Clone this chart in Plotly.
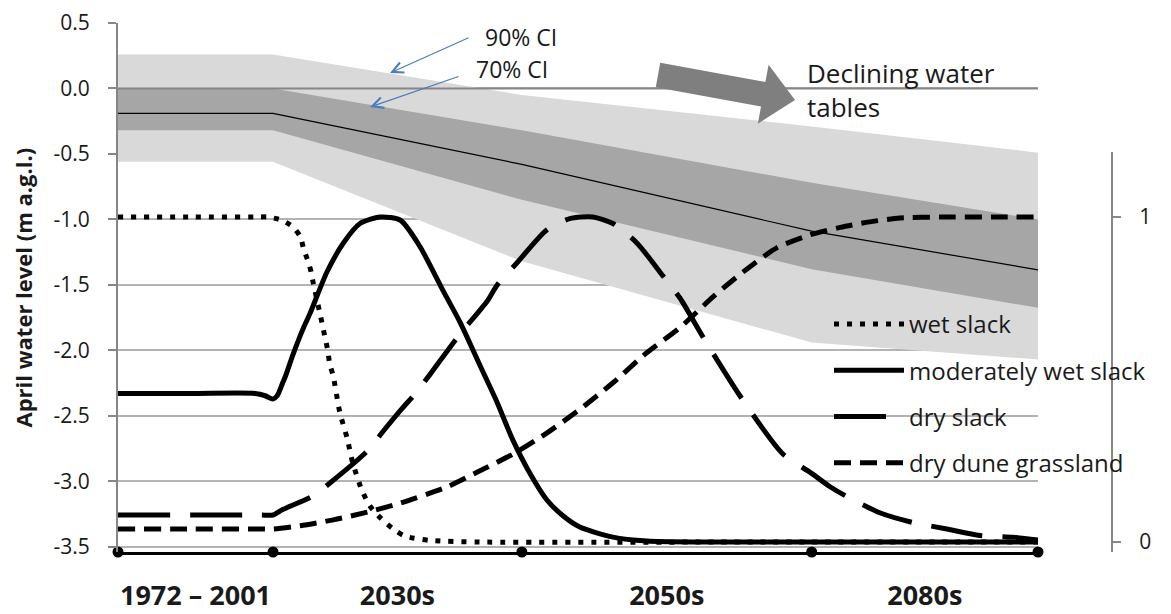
import plotly.graph_objects as go

# ---------------- data ----------------
# time index (0 = start of 1972-2001 baseline, 100 = end of 2080s)
period_bounds = [0, 16.85, 43.9, 75.4, 100]
period_labels = ["1972 – 2001", "2030s", "2050s", "2080s"]

# April water level (m a.g.l.) - ensemble statistics at period bounds
band_t = [0, 16.85, 43.9, 75.4, 100]
ci90_upper = [0.26, 0.26, -0.05, -0.29, -0.49]
ci70_upper = [0.0, 0.0, -0.32, -0.72, -1.0]
wl_mean = [-0.19, -0.19, -0.58, -1.09, -1.385]
ci70_lower = [-0.32, -0.32, -0.85, -1.38, -1.675]
ci90_lower = [-0.56, -0.56, -1.32, -1.94, -2.07]

# habitat suitability (right axis, 0-1)
wet_t = [0, 8.0, 15.0, 16.3, 17.8, 19.0, 19.8, 20.2, 20.7, 21.0, 21.2, 21.9, 22.2, 22.5, 22.8,
         23.0, 23.4, 24.1, 24.9, 25.5, 26.5, 27.4, 28.5, 29.9, 31.2, 33.9, 39.4, 70.0, 100]
wet_v = [1.0, 1.0, 1.0, 1.0, 0.99, 0.97, 0.94, 0.90, 0.86, 0.83, 0.80, 0.71, 0.67, 0.63, 0.59,
         0.55, 0.51, 0.40, 0.32, 0.245, 0.16, 0.11, 0.075, 0.04, 0.018, 0.005, 0.0, 0.0, 0.0]

mod_t = [0, 8.0, 14.9, 16.0, 16.85, 17.3, 17.9, 18.2, 19.0, 20.1, 20.9, 22.7, 24.5, 26.3, 28.5,
         30.7, 32.8, 35.3, 37.2, 39.4, 41.2, 42.9, 44.8, 46.6, 48.4, 50.2, 53.8, 57.5, 63.3,
         80.0, 100]
mod_v = [0.457, 0.457, 0.457, 0.45, 0.44, 0.45, 0.49, 0.51, 0.575, 0.655, 0.705, 0.83, 0.92,
         0.98, 1.0, 0.99, 0.91, 0.775, 0.675, 0.54, 0.43, 0.315, 0.21, 0.13, 0.08, 0.046, 0.015,
         0.003, 0.0, 0.0, 0.0]

dry_t = [0, 8.0, 15.5, 16.85, 17.9, 21.1, 23.4, 27.1, 28.8, 30.7, 32.1, 33.9, 36.9, 40.1, 41.2,
         43.4, 46.6, 49.1, 51.6, 53.8, 56.4, 59.2, 61.1, 63.6, 67.6, 72.3, 75.2, 77.4, 79.2,
         82.8, 86.4, 90.1, 93.7, 97.3, 100]
dry_v = [0.083, 0.083, 0.083, 0.083, 0.1, 0.14, 0.19, 0.28, 0.34, 0.405, 0.45, 0.515, 0.63,
         0.74, 0.79, 0.86, 0.96, 0.995, 1.0, 0.98, 0.92, 0.82, 0.75, 0.63, 0.45, 0.27, 0.215,
         0.17, 0.14, 0.09, 0.06, 0.04, 0.02, 0.015, 0.006]

dune_t = [0, 8.0, 15.5, 16.85, 19.8, 23.4, 27.1, 30.7, 35.8, 39.4, 42.9, 46.6, 50.2, 53.8,
          57.5, 61.1, 64.7, 67.9, 71.6, 75.2, 78.5, 81.7, 85.0, 89.4, 95.0, 100]
dune_v = [0.04, 0.04, 0.04, 0.04, 0.05, 0.068, 0.092, 0.12, 0.17, 0.22, 0.27, 0.335, 0.408,
          0.49, 0.583, 0.66, 0.755, 0.83, 0.905, 0.945, 0.968, 0.985, 0.997, 1.0, 1.0, 1.0]

left_ticks = [-3.5, -3.0, -2.5, -2.0, -1.5, -1.0, -0.5, 0.0, 0.5]
right_ticks = [0, 1]

# ---------------- layout helpers ----------------
# the page body adds an 8px offset; the figure is sized/margined to compensate
BODY = 8
W, H = 1171 - BODY, 614 - BODY
ML, MR, MT, MB = 118 - BODY, 20, 23 - BODY, 62
PW, PH = W - ML - MR, H - MT - MB
PLOT_LEFT, PLOT_BOTTOM = 118, 552   # reference-pixel position of the plot area corner
Y_MIN, Y_MAX = -3.54, 0.5

def px_x(px):
    return (px - PLOT_LEFT) / PW

def px_y(py):
    return (PLOT_BOTTOM - py) / PH

FONT = "Open Sans"
TXT = "#1a1a1a"
GRAY_AX = "#868686"

fig = go.Figure()

# confidence bands
fig.add_trace(go.Scatter(x=band_t, y=ci90_lower, mode="lines", line=dict(width=0),
                         showlegend=False, hoverinfo="skip"))
fig.add_trace(go.Scatter(x=band_t, y=ci90_upper, mode="lines", line=dict(width=0),
                         fill="tonexty", fillcolor="#d9d9d9", showlegend=False, hoverinfo="skip"))
fig.add_trace(go.Scatter(x=band_t, y=ci70_lower, mode="lines", line=dict(width=0),
                         showlegend=False, hoverinfo="skip"))
fig.add_trace(go.Scatter(x=band_t, y=ci70_upper, mode="lines", line=dict(width=0),
                         fill="tonexty", fillcolor="#a6a6a6", showlegend=False, hoverinfo="skip"))
fig.add_trace(go.Scatter(x=band_t, y=wl_mean, mode="lines", line=dict(color="black", width=1.2),
                         showlegend=False))

# period boundary dots on the x axis
fig.add_trace(go.Scatter(x=period_bounds, y=[Y_MIN] * len(period_bounds), mode="markers",
                         marker=dict(color="black", size=11), cliponaxis=False, showlegend=False))

# habitat curves
habitats = [
    ("wet slack", wet_t, wet_v, "5px,8px"),
    ("moderately wet slack", mod_t, mod_v, "solid"),
    ("dry slack", dry_t, dry_v, "52px,20px"),
    ("dry dune grassland", dune_t, dune_v, "17px,9px"),
]
for name, tt, vv, dash in habitats:
    fig.add_trace(go.Scatter(x=tt, y=vv, mode="lines", name=name, yaxis="y2",
                             legendgroup=name,
                             line=dict(color="black", width=5, dash=dash,
                                       shape="spline", smoothing=0.7)))

mids = [(period_bounds[i] + period_bounds[i + 1]) / 2 for i in range(len(period_labels))]

fig.update_layout(
    width=W, height=H,
    margin=dict(l=ML, r=MR, t=MT, b=MB, autoexpand=False),
    paper_bgcolor="white", plot_bgcolor="rgba(0,0,0,0)",
    font=dict(family=FONT, color=TXT),
    xaxis=dict(domain=[0, px_x(1038)], range=[0, 100], tickvals=mids, ticktext=period_labels,
               ticks="", showgrid=False, zeroline=False, showline=True, linecolor="black",
               linewidth=3, tickfont=dict(family=FONT, size=27, weight="bold", color=TXT),
               ticklabelstandoff=18, automargin=False),
    yaxis=dict(range=[Y_MIN, Y_MAX], tickvals=left_ticks,
               ticktext=[f"{v:.1f}" for v in left_ticks],
               showgrid=True, gridcolor="#b3b3b3", gridwidth=2,
               zeroline=False,
               showline=True, linecolor=GRAY_AX, linewidth=2,
               ticks="outside", ticklen=8, tickcolor=GRAY_AX, tickwidth=2,
               tickfont=dict(family=FONT, size=21, color=TXT), ticklabelstandoff=14,
               automargin=False),
    yaxis2=dict(domain=[0, px_y(152)], range=[-10 / 325, 1.2], anchor="free",
                position=px_x(1112), side="right", tickvals=right_ticks,
                ticktext=[str(v) for v in right_ticks], showgrid=False, zeroline=False,
                showline=True, linecolor=GRAY_AX, linewidth=2, ticks="outside", ticklen=8,
                tickcolor=GRAY_AX, tickwidth=2, tickfont=dict(family=FONT, size=21, color=TXT),
                ticklabelstandoff=14, automargin=False),
    legend=dict(x=px_x(829), y=px_y(302), xanchor="left", yanchor="top",
                bgcolor="rgba(0,0,0,0)", font=dict(family=FONT, size=24, color=TXT),
                itemwidth=70, traceorder="grouped", tracegroupgap=12),
    showlegend=True,
)

# horizontal axis line at 0 m, drawn over the confidence bands
fig.add_shape(type="line", xref="x", yref="y", x0=0, x1=100, y0=0, y1=0,
              line=dict(color=GRAY_AX, width=2), layer="above")

# big grey arrow "Declining water tables"
arrow_px = [(660.2, 62.7), (765.4, 81.9), (768.6, 64.7), (795, 100),
            (757.8, 123.7), (761.0, 106.5), (655.8, 87.3)]
path = "M " + " L ".join(f"{px_x(a):.4f},{px_y(b):.4f}" for a, b in arrow_px) + " Z"
fig.add_shape(type="path", path=path, xref="paper", yref="paper",
              fillcolor="#7f7f7f", line=dict(width=0), layer="above")

ann = []
ann.append(dict(x=px_x(805), y=px_y(90), xref="paper", yref="paper", xanchor="left",
                yanchor="middle", align="left", showarrow=False,
                text="Declining water<br>tables", font=dict(family=FONT, size=26, color=TXT)))
ann.append(dict(x=px_x(483), y=px_y(37), xref="paper", yref="paper", xanchor="left",
                yanchor="middle", showarrow=False, text="90% CI",
                font=dict(family=FONT, size=23, color=TXT)))
ann.append(dict(x=px_x(474), y=px_y(69), xref="paper", yref="paper", xanchor="left",
                yanchor="middle", showarrow=False, text="70% CI",
                font=dict(family=FONT, size=23, color=TXT)))
# blue pointer arrows
for head, tail in [((390, 73), (470, 37)), ((370, 107), (460, 76))]:
    ann.append(dict(x=px_x(head[0]), y=px_y(head[1]), xref="paper", yref="paper",
                    ax=tail[0] - head[0], ay=tail[1] - head[1], text="", showarrow=True,
                    arrowhead=5, arrowsize=1.8, arrowwidth=1.2, arrowcolor="#4a7ebb"))
# y axis title
ann.append(dict(x=px_x(22), y=0.5, xref="paper", yref="paper", xanchor="center",
                yanchor="middle", textangle=-90, showarrow=False,
                text="April water level (m a.g.l.)",
                font=dict(family=FONT, size=22, weight="bold", color=TXT)))
fig.update_layout(annotations=ann)

fig.write_html("out.html")
